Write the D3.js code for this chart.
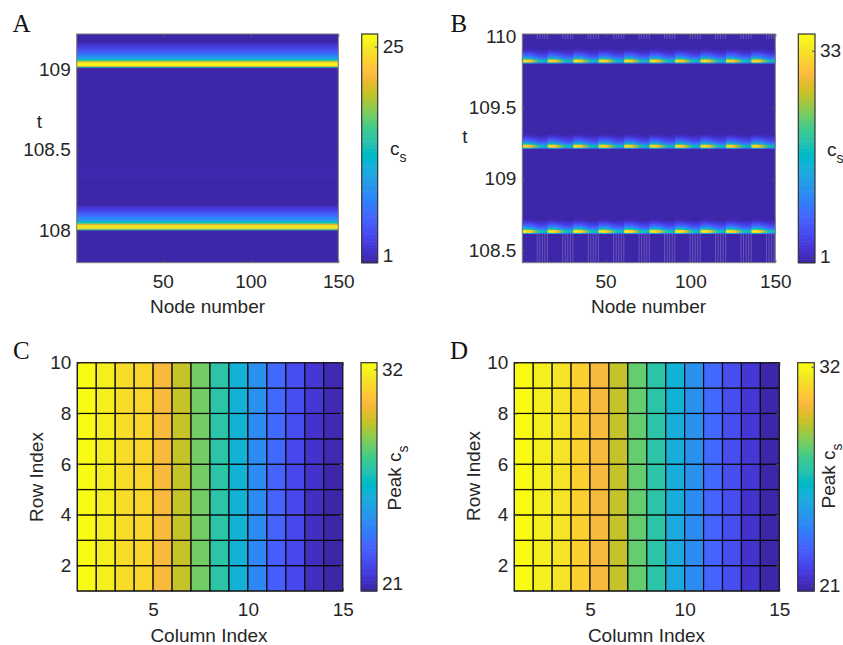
<!DOCTYPE html>
<html>
<head>
<meta charset="utf-8">
<script src="https://cdn.jsdelivr.net/npm/d3@7"></script>
<style>
  body { margin: 0; background: #fff; }
</style>
</head>
<body>
<div id="chart"></div>
<script>
// parula colormap (MATLAB, 64 entries)
const parulaRGB = [
  [0.2422,0.1504,0.6603],[0.2504,0.1650,0.7076],[0.2578,0.1818,0.7511],[0.2647,0.1978,0.7952],
  [0.2706,0.2147,0.8364],[0.2751,0.2342,0.8710],[0.2783,0.2559,0.8991],[0.2803,0.2782,0.9221],
  [0.2813,0.3006,0.9414],[0.2810,0.3228,0.9579],[0.2795,0.3447,0.9717],[0.2760,0.3667,0.9829],
  [0.2699,0.3892,0.9906],[0.2602,0.4123,0.9952],[0.2440,0.4358,0.9988],[0.2206,0.4603,0.9973],
  [0.1963,0.4847,0.9892],[0.1834,0.5074,0.9798],[0.1786,0.5289,0.9682],[0.1764,0.5499,0.9520],
  [0.1687,0.5703,0.9359],[0.1540,0.5902,0.9218],[0.1460,0.6091,0.9079],[0.1380,0.6276,0.8973],
  [0.1248,0.6459,0.8883],[0.1113,0.6635,0.8763],[0.0952,0.6798,0.8598],[0.0689,0.6948,0.8394],
  [0.0297,0.7082,0.8163],[0.0036,0.7203,0.7917],[0.0067,0.7312,0.7660],[0.0433,0.7411,0.7394],
  [0.0964,0.7500,0.7120],[0.1408,0.7584,0.6842],[0.1717,0.7670,0.6554],[0.1938,0.7758,0.6251],
  [0.2161,0.7843,0.5923],[0.2470,0.7918,0.5567],[0.2906,0.7973,0.5188],[0.3406,0.8008,0.4789],
  [0.3909,0.8029,0.4354],[0.4456,0.8024,0.3909],[0.5044,0.7993,0.3480],[0.5616,0.7942,0.3045],
  [0.6174,0.7876,0.2612],[0.6720,0.7793,0.2227],[0.7242,0.7698,0.1910],[0.7738,0.7598,0.1646],
  [0.8203,0.7498,0.1535],[0.8634,0.7406,0.1596],[0.9035,0.7330,0.1774],[0.9393,0.7288,0.2100],
  [0.9728,0.7298,0.2394],[0.9956,0.7434,0.2371],[0.9970,0.7659,0.2199],[0.9952,0.7893,0.2028],
  [0.9892,0.8136,0.1885],[0.9786,0.8386,0.1766],[0.9676,0.8639,0.1643],[0.9610,0.8890,0.1537],
  [0.9597,0.9135,0.1423],[0.9628,0.9373,0.1265],[0.9691,0.9606,0.1064],[0.9769,0.9839,0.0805]
];
const parula = parulaRGB.map(c => d3.rgb(c[0] * 255, c[1] * 255, c[2] * 255).formatHex());

// ---- panel A: c_s over time, all nodes in phase
const nodeDomain = [1, 150];
const nodeTicks = [50, 100, 150];
const tDomainA = [107.797, 109.217];
const tTicksA = [108, 108.5, 109];
const csDomainA = [0.11, 26.46];
const csTicksA = [1, 25];
const baseCsA = 0.3;
const spikeTimesA = [108.0, 109.01];
// time after spike onset (edges) and c_s in each step
const spikeDtA = [0, .006, .010, .016, .022, .028, .034, .040, .046, .052, .058, .064, .070,
                  .076, .082, .088, .094, .100, .106, .112, .118, .124, .130, .136, .142, .150];
const spikeCsA = [13, 22, 25.6, 26.2, 25.8, 24.5, 21, 16.5, 13, 11, 9.6, 8.6, 8.0,
                  7.3, 6.6, 6.0, 5.4, 4.8, 4.3, 3.7, 3.2, 2.7, 2.3, 1.9, 1.4];
const faintBandA = [108.31, 108.39, 0.7];

// ---- panel B: c_s over time, blocks of 15 nodes
const tDomainB = [108.41, 110.02];
const tTicksB = [108.5, 109, 109.5, 110];
const csDomainB = [0.07, 35.6];
const csTicksB = [1, 33];
const baseCsB = 0.3;
const blockSizeB = 15;
const spikeTimesB = [108.615, 109.215, 109.815];
const peakByOffsetB = [34, 34.5, 34.5, 34, 33, 31, 28, 25, 22, 20, 19, 18.5, 18, 18, 18];
const spikeDtB = [0, .007, .014, .021, .028, .035, .042, .049, .056, .063, .070, .077, .084, .091, .098, .105];
const spikeFracB = [0.45, 0.95, 1.0, 0.92, 0.6, 0.45, 0.36, 0.28, 0.22, 0.17, 0.13, 0.09, 0.06, 0.035, 0.015];
const seamOffsetsB = [8.8, 10.3, 11.8, 13.3, 14.8];

// ---- panels C and D: peak c_s on a 10 x 15 grid (rows bottom to top)
const colDomain = [1, 15];
const rowDomain = [1, 10];
const colTicks = [5, 10, 15];
const rowTicks = [2, 4, 6, 8, 10];
const csDomainC = [20.6, 32.34];
const csDomainD = [20.73, 32.2];
const csTicksCD = [21, 32];
const peakC = [
  [32.25, 31.85, 31.3, 31.1, 30.2, 29.3, 28.15, 26.9, 25.6, 24.0, 22.8, 21.9, 21.05, 20.7],
  [32.25, 31.85, 31.3, 31.1, 30.2, 29.3, 28.15, 26.9, 25.6, 24.05, 22.8, 21.9, 21.05, 20.7],
  [32.25, 31.85, 31.3, 31.1, 30.2, 29.3, 28.15, 26.9, 25.6, 24.1, 22.85, 21.95, 21.1, 20.7],
  [32.25, 31.85, 31.3, 31.1, 30.2, 29.3, 28.2, 26.9, 25.6, 24.15, 22.9, 22.0, 21.15, 20.75],
  [32.25, 31.85, 31.3, 31.15, 30.2, 29.3, 28.2, 26.9, 25.65, 24.2, 22.95, 22.0, 21.2, 20.75],
  [32.25, 31.9, 31.35, 31.15, 30.25, 29.3, 28.2, 26.95, 25.65, 24.2, 23.0, 22.05, 21.25, 20.8],
  [32.25, 31.9, 31.35, 31.15, 30.25, 29.3, 28.2, 26.95, 25.65, 24.25, 23.05, 22.1, 21.3, 20.8],
  [32.25, 31.9, 31.35, 31.15, 30.25, 29.3, 28.2, 26.95, 25.65, 24.3, 23.1, 22.15, 21.4, 20.85],
  [32.25, 31.9, 31.35, 31.15, 30.25, 29.3, 28.2, 26.95, 25.65, 24.35, 23.15, 22.15, 21.45, 20.9]
];
const peakD = [
  [32.1, 31.75, 31.4, 30.9, 30.1, 29.2, 27.95, 26.85, 25.35, 24.3, 23.05, 22.2, 21.3, 20.85],
  [32.1, 31.75, 31.4, 30.9, 30.1, 29.2, 27.95, 26.85, 25.35, 24.3, 23.05, 22.2, 21.3, 20.85],
  [32.1, 31.75, 31.4, 30.9, 30.1, 29.2, 27.95, 26.85, 25.35, 24.3, 23.05, 22.25, 21.35, 20.85],
  [32.1, 31.75, 31.4, 30.9, 30.1, 29.2, 28.0, 26.85, 25.4, 24.3, 23.05, 22.25, 21.4, 20.85],
  [32.1, 31.75, 31.4, 30.9, 30.1, 29.2, 28.0, 26.9, 25.4, 24.35, 23.1, 22.25, 21.45, 20.85],
  [32.1, 31.75, 31.4, 30.9, 30.1, 29.2, 28.0, 26.9, 25.45, 24.35, 23.1, 22.3, 21.5, 20.9],
  [32.1, 31.75, 31.4, 30.9, 30.1, 29.2, 28.0, 26.9, 25.45, 24.35, 23.1, 22.3, 21.5, 20.9],
  [32.1, 31.75, 31.4, 30.9, 30.1, 29.2, 28.0, 26.9, 25.6, 24.4, 23.1, 22.3, 21.55, 20.9],
  [32.1, 31.75, 31.4, 30.9, 30.1, 29.2, 28.0, 26.9, 25.65, 24.4, 23.1, 22.3, 21.6, 20.9]
];

const FONT = '"Liberation Sans", Arial, Helvetica, sans-serif';
const TXT = "#262626";

const svg = d3.select("#chart").append("svg")
    .attr("width", 843).attr("height", 645)
    .style("font-family", FONT);

function styleAxis(sel) {
    sel.attr("font-size", 19).attr("font-family", FONT);
    sel.select(".domain").remove();
    sel.selectAll("line").attr("stroke", "#555");
    sel.selectAll("text").attr("fill", TXT);
}

function addAxes(x, y, xTicks, yTicks, boxColor) {
    const [x0, x1] = x.range(), [y1, y0] = y.range();
    svg.append("g").attr("transform", `translate(0,${y1})`)
        .call(d3.axisBottom(x).tickValues(xTicks).tickSize(-3).tickPadding(12).tickFormat(String))
        .call(styleAxis);
    svg.append("g").attr("transform", `translate(0,${y0})`)
        .call(d3.axisTop(x).tickValues(xTicks).tickSize(-3).tickFormat(""))
        .call(styleAxis);
    svg.append("g").attr("transform", `translate(${x0},0)`)
        .call(d3.axisLeft(y).tickValues(yTicks).tickSize(-3).tickPadding(6).tickFormat(String))
        .call(styleAxis);
    svg.append("g").attr("transform", `translate(${x1},0)`)
        .call(d3.axisRight(y).tickValues(yTicks).tickSize(-3).tickFormat(""))
        .call(styleAxis);
    svg.append("rect")
        .attr("x", x0).attr("y", y0).attr("width", x1 - x0).attr("height", y1 - y0)
        .attr("fill", "none").attr("stroke", boxColor).attr("stroke-width", 1);
}

function colorbar(cb, domain, ticks) {
    const y = d3.scaleLinear().domain(domain).range([cb.y1, cb.y0]);
    const step = (domain[1] - domain[0]) / parula.length;
    svg.append("g").selectAll("rect").data(parula).join("rect")
        .attr("x", cb.x0).attr("width", cb.x1 - cb.x0)
        .attr("y", (c, i) => y(domain[0] + (i + 1) * step))
        .attr("height", (c, i) => y(domain[0] + i * step) - y(domain[0] + (i + 1) * step) + 0.6)
        .attr("fill", c => c);
    svg.append("g").attr("transform", `translate(${cb.x1},0)`)
        .call(d3.axisRight(y).tickValues(ticks).tickSize(-3).tickPadding(5).tickFormat(String))
        .call(styleAxis);
    svg.append("rect")
        .attr("x", cb.x0).attr("y", cb.y0).attr("width", cb.x1 - cb.x0).attr("height", cb.y1 - cb.y0)
        .attr("fill", "none").attr("stroke", "#333").attr("stroke-width", 1.2);
}

function colorScale(domain) {
    return d3.scaleQuantize().domain(domain).range(parula);
}

function clip(id, x, y) {
    svg.append("clipPath").attr("id", id).append("rect")
        .attr("x", x.range()[0]).attr("y", y.range()[1])
        .attr("width", x.range()[1] - x.range()[0]).attr("height", y.range()[0] - y.range()[1]);
    return svg.append("g").attr("clip-path", `url(#${id})`);
}

function panelLetter(txt, x, y) {
    svg.append("text").attr("x", x).attr("y", y).text(txt)
        .attr("font-family", '"Liberation Serif", "Times New Roman", serif')
        .attr("font-size", 25).attr("fill", "#111");
}

function csLabel(x, y, prefix, rotate) {
    const t = svg.append("text").attr("fill", TXT).attr("font-size", 19)
        .attr("transform", `translate(${x},${y})` + (rotate ? " rotate(-90)" : ""))
        .attr("text-anchor", rotate ? "middle" : "start");
    t.append("tspan").text(prefix + "c");
    t.append("tspan").attr("dy", 7).attr("font-size", 14).text("s");
}

function plainLabel(txt, x, y, rotate) {
    svg.append("text").attr("fill", TXT).attr("font-size", 19)
        .attr("text-anchor", "middle")
        .attr("transform", `translate(${x},${y})` + (rotate ? " rotate(-90)" : ""))
        .text(txt);
}

// ================= panel A
{
    const x = d3.scaleLinear().domain(nodeDomain).range([76.7, 338.3]);
    const y = d3.scaleLinear().domain(tDomainA).range([262.7, 34]);
    const col = colorScale(csDomainA);
    const g = clip("clipA", x, y);
    const xl = x(nodeDomain[0]), w = x(nodeDomain[1]) - x(nodeDomain[0]);
    g.append("rect").attr("x", xl).attr("width", w)
        .attr("y", y(tDomainA[1])).attr("height", y(tDomainA[0]) - y(tDomainA[1]))
        .attr("fill", col(baseCsA));
    g.append("rect").attr("x", xl).attr("width", w)
        .attr("y", y(faintBandA[1])).attr("height", y(faintBandA[0]) - y(faintBandA[1]))
        .attr("fill", col(faintBandA[2])).attr("opacity", 0.5);
    const rows = [];
    spikeTimesA.forEach(s => spikeCsA.forEach((c, i) =>
        rows.push({ t0: s + spikeDtA[i], t1: s + spikeDtA[i + 1], c })));
    g.selectAll(null).data(rows).join("rect")
        .attr("x", xl).attr("width", w)
        .attr("y", d => y(d.t1))
        .attr("height", d => y(d.t0) - y(d.t1) + 0.4)
        .attr("fill", d => col(d.c));
    addAxes(x, y, nodeTicks, tTicksA, "#777");
    colorbar({ x0: 361.7, x1: 377.7, y0: 34, y1: 262.7 }, csDomainA, csTicksA);
    panelLetter("A", 12.5, 31.7);
    plainLabel("t", 39.5, 128);
    plainLabel("Node number", 207.5, 313);
    csLabel(390, 155, "", false);
}

// ================= panel B
{
    const x = d3.scaleLinear().domain(nodeDomain).range([522.3, 775.3]);
    const y = d3.scaleLinear().domain(tDomainB).range([262.7, 34]);
    const col = colorScale(csDomainB);
    const g = clip("clipB", x, y);
    g.append("rect").attr("x", x(nodeDomain[0])).attr("width", x(nodeDomain[1]) - x(nodeDomain[0]))
        .attr("y", y(tDomainB[1])).attr("height", y(tDomainB[0]) - y(tDomainB[1]))
        .attr("fill", col(baseCsB));
    const cells = [];
    for (let n = nodeDomain[0]; n < nodeDomain[1]; n++) {
        const peak = peakByOffsetB[(n - 1) % blockSizeB];
        spikeTimesB.forEach(s => spikeFracB.forEach((f, i) =>
            cells.push({ n, t0: s + spikeDtB[i], t1: s + spikeDtB[i + 1], c: baseCsB + (peak - baseCsB) * f })));
    }
    g.selectAll(null).data(cells).join("rect")
        .attr("x", d => x(d.n)).attr("width", d => x(d.n + 1) - x(d.n) + 0.4)
        .attr("y", d => y(d.t1)).attr("height", d => y(d.t0) - y(d.t1) + 0.4)
        .attr("fill", d => col(d.c));
    // faint seams of the surface patches
    const seams = [];
    for (let b = 0; b * blockSizeB < nodeDomain[1]; b++) {
        seamOffsetsB.forEach(o => {
            const n = nodeDomain[0] + b * blockSizeB + o;
            if (n < nodeDomain[1]) {
                seams.push({ n, t0: tDomainB[0], t1: spikeTimesB[0] });
                seams.push({ n, t0: 109.985, t1: tDomainB[1] });
            }
        });
    }
    g.selectAll(null).data(seams).join("line")
        .attr("x1", d => x(d.n)).attr("x2", d => x(d.n))
        .attr("y1", d => y(d.t0)).attr("y2", d => y(d.t1))
        .attr("stroke", "#fff").attr("stroke-opacity", 0.28).attr("stroke-width", 0.8);
    addAxes(x, y, nodeTicks, tTicksB, "#777");
    colorbar({ x0: 798.3, x1: 815, y0: 34, y1: 262.7 }, csDomainB, csTicksB);
    panelLetter("B", 450.5, 31.7);
    plainLabel("t", 465, 143);
    plainLabel("Node number", 648.5, 313);
    csLabel(827, 156, "", false);
}

// ================= panels C and D
function gridPanel(id, peak, csDomain, px, cb, letter) {
    const x = d3.scaleLinear().domain(colDomain).range([px.x0, px.x1]);
    const y = d3.scaleLinear().domain(rowDomain).range([591, 362.7]);
    const col = colorScale(csDomain);
    const cells = [];
    peak.forEach((row, r) => row.forEach((v, c) => cells.push({ r: r + 1, c: c + 1, v })));
    svg.append("g").selectAll("rect").data(cells).join("rect")
        .attr("x", d => x(d.c)).attr("width", d => x(d.c + 1) - x(d.c))
        .attr("y", d => y(d.r + 1)).attr("height", d => y(d.r) - y(d.r + 1))
        .attr("fill", d => col(d.v))
        .attr("stroke", "#0a0a0a").attr("stroke-width", 1.2);
    addAxes(x, y, colTicks, rowTicks, "#222");
    colorbar(cb, csDomain, csTicksCD);
    panelLetter(letter.txt, letter.x, 359.3);
}

gridPanel("C", peakC, csDomainC, { x0: 77.3, x1: 342.7 }, { x0: 361, x1: 377, y0: 362.7, y1: 591 }, { txt: "C", x: 13 });
plainLabel("Row Index", 42.5, 477, true);
plainLabel("Column Index", 209, 641.5);
csLabel(400.5, 478, "Peak ", true);

gridPanel("D", peakD, csDomainD, { x0: 514.3, x1: 779.3 }, { x0: 797.7, x1: 814.3, y0: 362.7, y1: 591 }, { txt: "D", x: 450 });
plainLabel("Row Index", 480, 476, true);
plainLabel("Column Index", 646.5, 641.5);
csLabel(834.5, 476, "Peak ", true);
</script>
</body>
</html>
